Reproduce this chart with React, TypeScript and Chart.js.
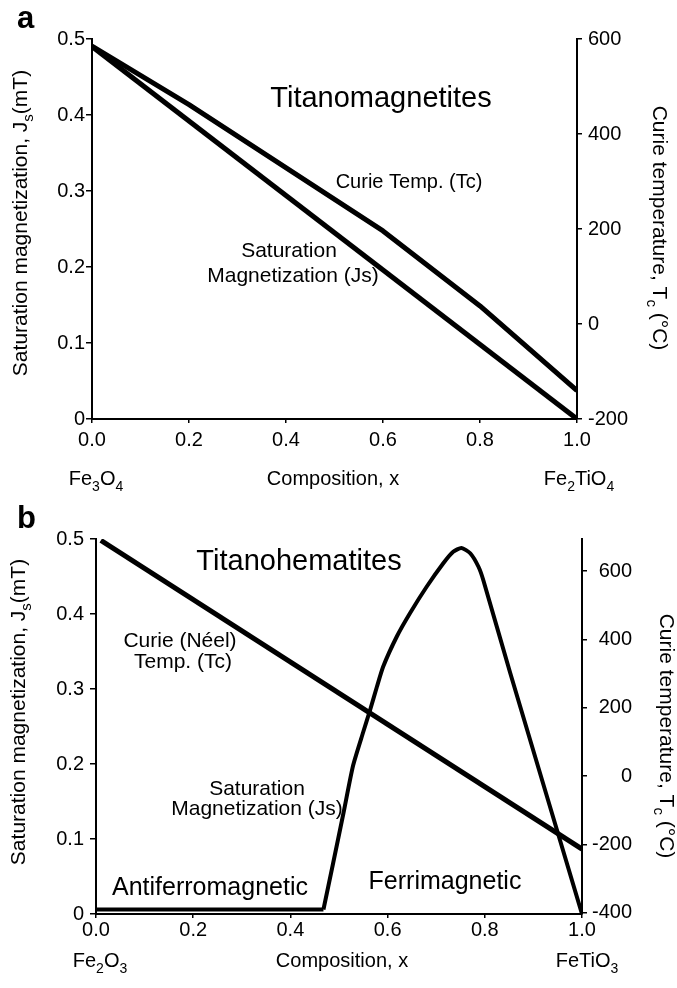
import React, { useEffect, useRef } from "react";
import { Chart, registerables } from "chart.js";
Chart.register(...registerables);

const FONT = '"Liberation Sans", Arial, Helvetica, sans-serif';

// ---- Panel a: Titanomagnetites ----
const compA_Js = [0, 1.0];
const valA_Js = [0.49, 0];
const compA_Tc = [0, 0.2, 0.6, 0.8, 1.0];
const valA_Tc = [585, 462, 196, 38, -140];

// ---- Panel b: Titanohematites ----
const compB_Tc = [0.01, 1.0];
const valB_Tc = [690, -213];
const compB_Js = [0, 0.468, 0.488, 0.509, 0.529, 0.55, 0.564, 0.578, 0.591, 0.619, 0.646, 0.68, 0.715, 0.735, 0.752, 0.77, 0.787, 0.797, 0.852, 1.0];
const valB_Js = [0.006, 0.006, 0.068, 0.134, 0.198, 0.243, 0.272, 0.303, 0.33, 0.37, 0.401, 0.436, 0.468, 0.483, 0.488, 0.481, 0.463, 0.445, 0.322, 0.0];

// ---- Tick labels ----
const xTicks = [0, 0.2, 0.4, 0.6, 0.8, 1.0];
const jsTicks = [0, 0.1, 0.2, 0.3, 0.4, 0.5];
const tcTicksA = [-200, 0, 200, 400, 600];
const tcTicksB = [-400, -200, 0, 200, 400, 600];

type Seg = [string, boolean];
type TextItem = { segs: Seg[]; x: number; y: number; size: number; bold?: boolean; align?: "left" | "center" | "right"; rot?: number };

function drawRich(ctx: CanvasRenderingContext2D, it: TextItem) {
  const { segs, x, y, size, bold, align = "center", rot = 0 } = it;
  const w = bold ? "bold " : "";
  const main = `${w}${size}px ${FONT}`;
  const sub = `${w}${Math.round(size * 0.72)}px ${FONT}`;
  const widths: number[] = [];
  let total = 0;
  for (const [t, s] of segs) {
    ctx.font = s ? sub : main;
    const m = ctx.measureText(t).width;
    widths.push(m);
    total += m;
  }
  ctx.save();
  ctx.translate(x, y);
  ctx.rotate(rot);
  ctx.fillStyle = "#000";
  ctx.textBaseline = "alphabetic";
  ctx.textAlign = "left";
  let cx = align === "center" ? -total / 2 : align === "right" ? -total : 0;
  segs.forEach(([t, s], i) => {
    ctx.font = s ? sub : main;
    ctx.fillText(t, cx, s ? size * 0.28 : 0);
    cx += widths[i];
  });
  ctx.restore();
}

const T = (s: string): Seg => [s, false];
const S = (s: string): Seg => [s, true];

const leftTitle: Seg[] = [T("Saturation magnetization, J"), S("s"), T("(mT)")];
const rightTitle: Seg[] = [T("Curie temperature, T"), S("c"), T(" (°C)")];

const textsA: TextItem[] = [
  { segs: [T("a")], x: 17, y: 28, size: 31, bold: true, align: "left" },
  { segs: [T("Titanomagnetites")], x: 381, y: 107, size: 29 },
  { segs: [T("Curie Temp. (Tc)")], x: 409, y: 188, size: 20 },
  { segs: [T("Saturation")], x: 289, y: 257, size: 21 },
  { segs: [T("Magnetization (Js)")], x: 293, y: 282, size: 21 },
  { segs: [T("Fe"), S("3"), T("O"), S("4")], x: 96, y: 485, size: 20 },
  { segs: [T("Composition, x")], x: 333, y: 485, size: 20 },
  { segs: [T("Fe"), S("2"), T("TiO"), S("4")], x: 579, y: 485, size: 20 },
  { segs: leftTitle, x: 27, y: 223, size: 21, rot: -Math.PI / 2 },
  { segs: rightTitle, x: 653, y: 228, size: 21, rot: Math.PI / 2 },
];

const textsB: TextItem[] = [
  { segs: [T("b")], x: 17, y: 28, size: 31, bold: true, align: "left" },
  { segs: [T("Titanohematites")], x: 299, y: 70, size: 29 },
  { segs: [T("Curie (Néel)")], x: 180, y: 147, size: 21 },
  { segs: [T("Temp. (Tc)")], x: 183, y: 168, size: 21 },
  { segs: [T("Saturation")], x: 257, y: 295, size: 21 },
  { segs: [T("Magnetization (Js)")], x: 257, y: 315, size: 21 },
  { segs: [T("Antiferromagnetic")], x: 210, y: 395, size: 25 },
  { segs: [T("Ferrimagnetic")], x: 445, y: 389, size: 25 },
  { segs: [T("Fe"), S("2"), T("O"), S("3")], x: 100, y: 467, size: 20 },
  { segs: [T("Composition, x")], x: 342, y: 467, size: 20 },
  { segs: [T("FeTiO"), S("3")], x: 587, y: 467, size: 20 },
  { segs: leftTitle, x: 25, y: 212, size: 21, rot: -Math.PI / 2 },
  { segs: rightTitle, x: 660, y: 236, size: 21, rot: Math.PI / 2 },
];

type Panel = {
  W: number; H: number; top: number; bottom: number; left: number; right: number; padRight: number;
  tcMin: number; tcMax: number; tcTicks: number[];
  xPad: number; lPad: number; rPad: number; rAlign: "near" | "far";
  datasets: any[]; texts: TextItem[];
};

function makeChart(canvas: HTMLCanvasElement, p: Panel) {
  const tickFont = { family: FONT, size: 20 };
  const axisBase = {
    grid: { drawOnChartArea: false, drawTicks: true, color: "#000", lineWidth: 1.5 },
    border: { display: true, color: "#000", width: 2 },
  };
  const textPlugin = {
    id: "richText" + Math.floor(Math.random() * 1e6),
    afterDraw(chart: any) {
      const ctx = chart.ctx as CanvasRenderingContext2D;
      p.texts.forEach((t) => drawRich(ctx, t));
    },
  };
  return new Chart(canvas, {
    type: "line",
    data: { datasets: p.datasets },
    plugins: [textPlugin],
    options: {
      responsive: false,
      animation: false,
      maintainAspectRatio: false,
      layout: { padding: { top: p.top, left: 0, right: p.padRight, bottom: 0 } },
      plugins: { legend: { display: false }, tooltip: { enabled: false } },
      scales: {
        x: {
          type: "linear", position: "bottom", min: 0, max: 1,
          ...axisBase,
          grid: { ...axisBase.grid, tickLength: 4 },
          afterBuildTicks: (s: any) => { s.ticks = xTicks.map((v) => ({ value: v })); },
          afterFit: (s: any) => { s.height = p.H - p.bottom; },
          ticks: { color: "#000", font: tickFont, padding: p.xPad, maxRotation: 0, autoSkip: false, callback: (v: any) => Number(v).toFixed(1) },
        },
        yL: {
          type: "linear", position: "left", min: 0, max: 0.5,
          ...axisBase,
          grid: { ...axisBase.grid, tickLength: 6 },
          afterBuildTicks: (s: any) => { s.ticks = jsTicks.map((v) => ({ value: v })); },
          afterFit: (s: any) => { s.width = p.left; },
          ticks: { color: "#000", font: tickFont, padding: p.lPad, autoSkip: false, callback: (v: any) => (Number(v) === 0 ? "0" : Number(v).toFixed(1)) },
        },
        yR: {
          type: "linear", position: "right", min: p.tcMin, max: p.tcMax,
          ...axisBase,
          grid: { ...axisBase.grid, tickLength: 5 },
          afterBuildTicks: (s: any) => { s.ticks = p.tcTicks.map((v) => ({ value: v })); },
          afterFit: (s: any) => { s.width = p.W - p.padRight - p.right; },
          ticks: { color: "#000", font: tickFont, padding: p.rPad, autoSkip: false, crossAlign: p.rAlign, callback: (v: any) => String(Math.round(Number(v))) },
        },
      },
    } as any,
  });
}

const line = (xs: number[], ys: number[], axis: string, width: number, tension: number = 0) => ({
  data: xs.map((x, i) => ({ x, y: ys[i] })),
  yAxisID: axis,
  borderColor: "#000",
  backgroundColor: "#000",
  borderWidth: width,
  pointRadius: 0,
  fill: false,
  tension,
  borderJoinStyle: "round",
});

export default function App() {
  const refA = useRef<HTMLCanvasElement>(null);
  const refB = useRef<HTMLCanvasElement>(null);

  useEffect(() => {
    const a = makeChart(refA.current!, {
      W: 677, H: 500, top: 39, bottom: 419, left: 92, right: 577, padRight: 0,
      tcMin: -200, tcMax: 600, tcTicks: tcTicksA,
      xPad: 5, lPad: 1, rPad: 6, rAlign: "near",
      datasets: [line(compA_Js, valA_Js, "yL", 5), line(compA_Tc, valA_Tc, "yR", 5)],
      texts: textsA,
    });
    // Js in panel b: flat antiferromagnetic part (straight) + ferrimagnetic hump (slightly smoothed)
    const b = makeChart(refB.current!, {
      W: 677, H: 488, top: 39, bottom: 414, left: 96, right: 582, padRight: 45,
      tcMin: -403, tcMax: 694, tcTicks: tcTicksB,
      xPad: 0, lPad: 6, rPad: 5, rAlign: "far",
      datasets: [
        line(compB_Tc, valB_Tc, "yR", 5),
        line(compB_Js.slice(0, 2), valB_Js.slice(0, 2), "yL", 4),
        line(compB_Js.slice(1), valB_Js.slice(1), "yL", 4, 0.2),
      ],
      texts: textsB,
    });
    return () => { a.destroy(); b.destroy(); };
  }, []);

  return (
    <div style={{ position: "fixed", left: 0, top: 0, width: 677, height: 988, background: "#fff" }}>
      <canvas ref={refA} width={677} height={500} style={{ position: "absolute", left: 0, top: 0, width: 677, height: 500 }} />
      <canvas ref={refB} width={677} height={488} style={{ position: "absolute", left: 0, top: 500, width: 677, height: 488 }} />
    </div>
  );
}
